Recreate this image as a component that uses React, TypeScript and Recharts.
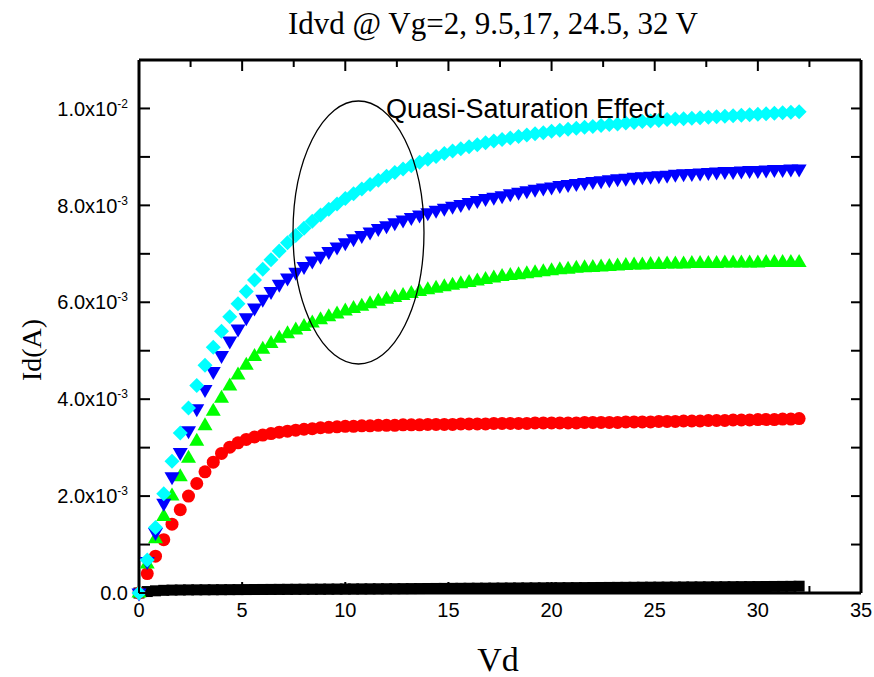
import { ScatterChart, Scatter, XAxis, YAxis, ReferenceDot, ReferenceLine, Label } from 'recharts';

// drain voltage sweep (V)
const VD = [
  0, 0.4, 0.8, 1.2, 1.6, 2, 2.4, 2.8, 3.2, 3.6,
  4, 4.4, 4.8, 5.2, 5.6, 6, 6.4, 6.8, 7.2, 7.6,
  8, 8.4, 8.8, 9.2, 9.6, 10, 10.4, 10.8, 11.2, 11.6,
  12, 12.4, 12.8, 13.2, 13.6, 14, 14.4, 14.8, 15.2, 15.6,
  16, 16.4, 16.8, 17.2, 17.6, 18, 18.4, 18.8, 19.2, 19.6,
  20, 20.4, 20.8, 21.2, 21.6, 22, 22.4, 22.8, 23.2, 23.6,
  24, 24.4, 24.8, 25.2, 25.6, 26, 26.4, 26.8, 27.2, 27.6,
  28, 28.4, 28.8, 29.2, 29.6, 30, 30.4, 30.8, 31.2, 31.6,
  32,
];

// drain current, in units of 1e-3 A
const ID_VG2 = [
  0, 0.03, 0.045, 0.055, 0.06, 0.062, 0.064, 0.065, 0.066, 0.067,
  0.068, 0.069, 0.07, 0.071, 0.072, 0.073, 0.074, 0.075, 0.076, 0.077,
  0.078, 0.079, 0.08, 0.081, 0.082, 0.083, 0.084, 0.085, 0.086, 0.087,
  0.088, 0.089, 0.09, 0.091, 0.092, 0.093, 0.094, 0.095, 0.096, 0.097,
  0.098, 0.099, 0.1, 0.101, 0.102, 0.103, 0.104, 0.105, 0.106, 0.107,
  0.108, 0.109, 0.11, 0.111, 0.112, 0.113, 0.114, 0.115, 0.116, 0.117,
  0.118, 0.119, 0.12, 0.121, 0.122, 0.123, 0.124, 0.125, 0.126, 0.127,
  0.128, 0.129, 0.13, 0.131, 0.132, 0.133, 0.134, 0.135, 0.136, 0.137,
  0.14,
];

const ID_VG9_5 = [
  0, 0.4, 0.76, 1.1, 1.42, 1.72, 2.0, 2.26, 2.5, 2.7,
  2.88, 3.01, 3.1, 3.17, 3.22, 3.26, 3.29, 3.32, 3.34, 3.36,
  3.38, 3.39, 3.41, 3.42, 3.43, 3.44, 3.44, 3.45, 3.45, 3.46,
  3.46, 3.46, 3.47, 3.47, 3.47, 3.48, 3.48, 3.48, 3.48, 3.49,
  3.49, 3.49, 3.49, 3.5, 3.5, 3.5, 3.5, 3.5, 3.51, 3.51,
  3.51, 3.51, 3.51, 3.51, 3.52, 3.52, 3.52, 3.52, 3.52, 3.53,
  3.53, 3.53, 3.53, 3.54, 3.54, 3.54, 3.55, 3.55, 3.55, 3.56,
  3.56, 3.56, 3.57, 3.57, 3.57, 3.58, 3.58, 3.58, 3.59, 3.59,
  3.6,
];

const ID_VG17 = [
  0, 0.6, 1.12, 1.58, 2.0, 2.4, 2.78, 3.13, 3.45, 3.75,
  4.02, 4.27, 4.5, 4.7, 4.88, 5.03, 5.15, 5.26, 5.35, 5.43,
  5.5, 5.57, 5.64, 5.7, 5.76, 5.82, 5.87, 5.92, 5.97, 6.02,
  6.06, 6.1, 6.14, 6.18, 6.22, 6.26, 6.29, 6.32, 6.35, 6.38,
  6.41, 6.44, 6.47, 6.5, 6.53, 6.55, 6.57, 6.59, 6.61, 6.63,
  6.65, 6.67, 6.68, 6.7, 6.71, 6.72, 6.73, 6.74, 6.75, 6.76,
  6.77, 6.77, 6.78, 6.78, 6.79, 6.79, 6.79, 6.8, 6.8, 6.8,
  6.8, 6.81, 6.81, 6.81, 6.81, 6.81, 6.82, 6.82, 6.82, 6.82,
  6.82,
];

const ID_VG24_5 = [
  0, 0.65, 1.25, 1.85, 2.4, 2.9, 3.35, 3.8, 4.2, 4.57,
  4.9, 5.2, 5.45, 5.68, 5.88, 6.06, 6.22, 6.37, 6.5, 6.62,
  6.74, 6.85, 6.95, 7.05, 7.14, 7.23, 7.31, 7.38, 7.45, 7.52,
  7.58, 7.64, 7.7, 7.75, 7.8, 7.85, 7.9, 7.94, 7.98, 8.02,
  8.06, 8.1, 8.14, 8.17, 8.2, 8.24, 8.27, 8.3, 8.33, 8.36,
  8.38, 8.41, 8.43, 8.45, 8.47, 8.49, 8.51, 8.53, 8.55, 8.56,
  8.58, 8.59, 8.6, 8.61, 8.62, 8.64, 8.65, 8.66, 8.67, 8.68,
  8.69, 8.7, 8.7, 8.71, 8.72, 8.72, 8.73, 8.74, 8.74, 8.75,
  8.75,
];

const ID_VG32 = [
  0, 0.68, 1.35, 2.05, 2.72, 3.3, 3.82, 4.28, 4.7, 5.07,
  5.4, 5.7, 5.97, 6.22, 6.46, 6.68, 6.88, 7.06, 7.23, 7.38,
  7.53, 7.67, 7.8, 7.92, 8.03, 8.14, 8.24, 8.34, 8.43, 8.52,
  8.6, 8.68, 8.75, 8.82, 8.89, 8.95, 9.01, 9.07, 9.12, 9.17,
  9.21, 9.25, 9.29, 9.33, 9.36, 9.39, 9.42, 9.45, 9.48, 9.5,
  9.53, 9.55, 9.57, 9.59, 9.61, 9.63, 9.65, 9.67, 9.68, 9.7,
  9.71, 9.73, 9.74, 9.75, 9.77, 9.78, 9.79, 9.8, 9.81, 9.82,
  9.83, 9.84, 9.85, 9.86, 9.87, 9.88, 9.89, 9.9, 9.91, 9.92,
  9.93,
];

const X_TICKS = [0, 2.5, 5, 7.5, 10, 12.5, 15, 17.5, 20, 22.5, 25, 27.5, 30, 32.5, 35];
const X_MAJOR = [0, 5, 10, 15, 20, 25, 30, 35];
const Y_TICKS = [0, 1, 2, 3, 4, 5, 6, 7, 8, 9, 10];
const Y_MAJOR = [0, 2, 4, 6, 8, 10];
const Y_MANTISSA = ['0.0', '2.0x10', '4.0x10', '6.0x10', '8.0x10', '1.0x10'];
const Y_EXPONENT = ['', '-3', '-3', '-3', '-3', '-2'];

const TITLE = 'Idvd @ Vg=2, 9.5,17, 24.5, 32 V';
const NOTE = 'Quasi-Saturation Effect';

const SANS = '"Liberation Sans", Arial, sans-serif';
const SERIF = '"Liberation Serif", "Times New Roman", serif';

// plot box size (px), used to mirror the inward ticks on top/right
const PLOT_W = 722;
const PLOT_H = 533;

const toRows = (values: number[]) => VD.map((vd, i) => ({ vd, id: values[i] }));

const square = (p: any) => <rect x={p.cx - 5.5} y={p.cy - 5.5} width={11} height={11} fill="#000000" />;
const circle = (p: any) => <circle cx={p.cx} cy={p.cy} r={6.5} fill="#ff0000" />;
const triUp = (p: any) => (
  <polygon points={`${p.cx},${p.cy - 8.5} ${p.cx + 7.5},${p.cy + 4.5} ${p.cx - 7.5},${p.cy + 4.5}`} fill="#00ff00" />
);
const triDown = (p: any) => (
  <polygon points={`${p.cx},${p.cy + 8.5} ${p.cx + 7.5},${p.cy - 4.5} ${p.cx - 7.5},${p.cy - 4.5}`} fill="#0000ff" />
);
const diamond = (p: any) => (
  <polygon points={`${p.cx},${p.cy - 7.5} ${p.cx + 7.5},${p.cy} ${p.cx},${p.cy + 7.5} ${p.cx - 7.5},${p.cy}`} fill="#00ffff" />
);

const SERIES = [
  { name: 'Vg=2', values: ID_VG2, shape: square },
  { name: 'Vg=9.5', values: ID_VG9_5, shape: circle },
  { name: 'Vg=17', values: ID_VG17, shape: triUp },
  { name: 'Vg=24.5', values: ID_VG24_5, shape: triDown },
  { name: 'Vg=32', values: ID_VG32, shape: diamond },
];

const YTick = (props: any) => {
  const v = props.payload.value;
  const i = Y_MAJOR.indexOf(v);
  const axisX = props.x + 11;
  return (
    <g>
      <line x1={axisX} x2={axisX + 11} y1={props.y} y2={props.y} stroke="#000" strokeWidth={2} />
      <line x1={axisX + PLOT_W} x2={axisX + PLOT_W - 10} y1={props.y} y2={props.y} stroke="#000" strokeWidth={2} />
      {i >= 0 && (
        <text x={props.x} y={props.y} dy="0.36em" textAnchor="end" fontFamily={SANS} fontSize={20} fill="#000">
          {Y_MANTISSA[i]}
          {Y_EXPONENT[i] && (
            <tspan dy={-8} fontSize={12}>
              {Y_EXPONENT[i]}
            </tspan>
          )}
        </text>
      )}
    </g>
  );
};

const XTick = (props: any) => {
  const v = props.payload.value;
  const major = X_MAJOR.includes(v);
  const axisY = props.y - 10;
  const len = major ? 11 : 7;
  return (
    <g>
      <line x1={props.x} x2={props.x} y1={axisY} y2={axisY - len} stroke="#000" strokeWidth={2} />
      <line x1={props.x} x2={props.x} y1={axisY - PLOT_H} y2={axisY - PLOT_H + len} stroke="#000" strokeWidth={2} />
      {major && (
        <text x={props.x} y={props.y} dy="0.72em" textAnchor="middle" fontFamily={SANS} fontSize={20} fill="#000">
          {v}
        </text>
      )}
    </g>
  );
};

const frame = { stroke: '#000', strokeWidth: 3 };

export default function App() {
  return (
    <div style={{ position: 'absolute', left: 8, top: 8, width: 866, height: 669 }}>
      <div
        style={{
          position: 'absolute',
          left: 185,
          top: 0,
          width: 600,
          textAlign: 'center',
          fontFamily: SERIF,
          fontSize: 31,
          lineHeight: '31px',
          color: '#000',
          whiteSpace: 'nowrap',
        }}
      >
        {TITLE}
      </div>
      <ScatterChart width={866} height={669} margin={{ top: 52, right: 13, left: 0, bottom: 0 }}>
        <XAxis
          xAxisId="x"
          dataKey="vd"
          type="number"
          domain={[0, 35]}
          ticks={X_TICKS}
          interval={0}
          height={84}
          tickLine={false}
          tickSize={0}
          tickMargin={10}
          axisLine={frame}
          tick={<XTick />}
        >
          <Label
            content={(p: any) => (
              <text
                x={p.viewBox.x + p.viewBox.width / 2 - 2}
                y={p.viewBox.y + 78}
                textAnchor="middle"
                fontFamily={SERIF}
                fontSize={34}
                fill="#000"
              >
                Vd
              </text>
            )}
          />
        </XAxis>
        <YAxis
          yAxisId="y"
          dataKey="id"
          type="number"
          domain={[0, 11]}
          ticks={Y_TICKS}
          interval={0}
          width={131}
          tickLine={false}
          tickSize={0}
          tickMargin={11}
          axisLine={frame}
          tick={<YTick />}
        >
          <Label
            content={() => (
              <text x={23} y={342} transform="rotate(-90 23 342)" textAnchor="middle" dominantBaseline="central" fontFamily={SERIF} fontSize={28} fill="#000">
                Id(A)
              </text>
            )}
          />
        </YAxis>

        <ReferenceLine xAxisId="x" yAxisId="y" y={11} stroke="#000" strokeWidth={3} />
        <ReferenceLine xAxisId="x" yAxisId="y" x={35} stroke="#000" strokeWidth={3} />

        {SERIES.map((s) => (
          <Scatter
            key={s.name}
            name={s.name}
            xAxisId="x"
            yAxisId="y"
            data={toRows(s.values)}
            shape={s.shape}
            isAnimationActive={false}
          />
        ))}

        <ReferenceDot
          xAxisId="x"
          yAxisId="y"
          x={10.64}
          y={7.44}
          r={1}
          shape={(p: any) => <ellipse cx={p.cx} cy={p.cy} rx={65.5} ry={131.5} fill="none" stroke="#000" strokeWidth={1.3} />}
        />
        <ReferenceDot
          xAxisId="x"
          yAxisId="y"
          x={11.97}
          y={9.8}
          r={1}
          shape={(p: any) => (
            <text x={p.cx} y={p.cy} fontFamily={SANS} fontSize={27} fill="#000">
              {NOTE}
            </text>
          )}
        />
      </ScatterChart>
    </div>
  );
}
